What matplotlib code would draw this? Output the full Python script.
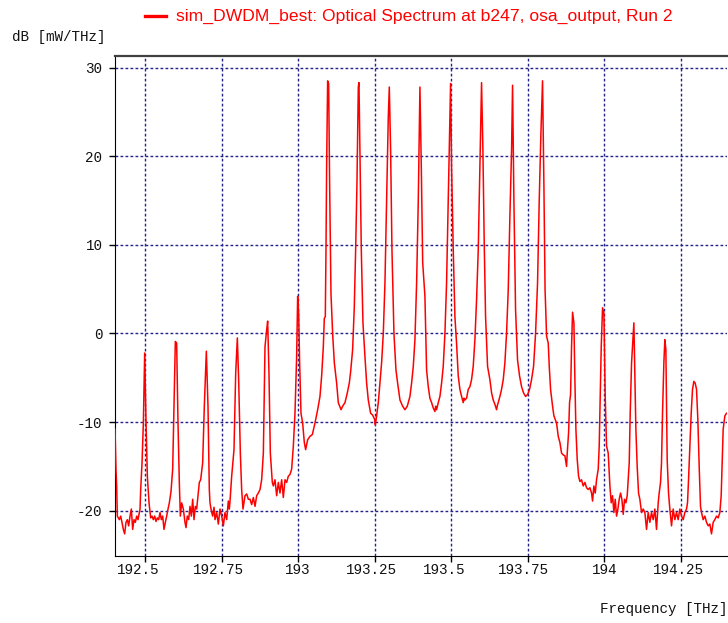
import matplotlib
matplotlib.use("Agg")
import matplotlib.pyplot as plt
from matplotlib.lines import Line2D
from matplotlib.transforms import ScaledTranslation

# optical spectrum (THz, dB[mW/THz])
freq_thz = [
    192.4021, 192.4052, 192.4074, 192.4096, 192.4161, 192.4205, 192.4248, 192.4292,
    192.4335, 192.4379, 192.4423, 192.4466, 192.4510, 192.4553, 192.4597, 192.4641,
    192.4684, 192.4728, 192.4771, 192.4815, 192.4837, 192.4859, 192.4902, 192.4946,
    192.4989, 192.5033, 192.5076, 192.5131, 192.5185,
    192.5229, 192.5272, 192.5316, 192.5359, 192.5403, 192.5446, 192.5490, 192.5533,
    192.5577, 192.5620, 192.5664, 192.5707, 192.5751, 192.5794, 192.5849, 192.5903,
    192.5947, 192.5990, 192.6033, 192.6077, 192.6120, 192.6153,
    192.6197, 192.6251, 192.6305, 192.6338, 192.6381, 192.6425, 192.6469, 192.6512,
    192.6556, 192.6599, 192.6643, 192.6686, 192.6730, 192.6773, 192.6817, 192.6882,
    192.6936, 192.7002, 192.7056, 192.7099, 192.7121, 192.7165, 192.7208, 192.7252,
    192.7285, 192.7339, 192.7394, 192.7448, 192.7503, 192.7557, 192.7611, 192.7666,
    192.7720, 192.7753, 192.7775, 192.7829, 192.7905, 192.7960, 192.8014, 192.8057,
    192.8112, 192.8155, 192.8199, 192.8264, 192.8319, 192.8373, 192.8427, 192.8482,
    192.8536, 192.8591, 192.8645, 192.8699, 192.8754, 192.8808, 192.8863, 192.8917,
    192.8971, 192.9004, 192.9047, 192.9091, 192.9156, 192.9189, 192.9243, 192.9298,
    192.9352, 192.9406, 192.9461, 192.9515, 192.9570, 192.9624, 192.9678, 192.9733,
    192.9787, 192.9842, 192.9896, 192.9950, 192.9983, 193.0016, 193.0048, 193.0092,
    193.0146, 193.0201, 193.0244, 193.0309, 193.0385, 193.0462, 193.0549, 193.0636,
    193.0712, 193.0766, 193.0821, 193.0853, 193.0886, 193.0908, 193.0929, 193.0962,
    193.0995, 193.1027, 193.1071, 193.1125, 193.1180, 193.1256, 193.1310, 193.1364,
    193.1400, 193.1452, 193.1528, 193.1604, 193.1669, 193.1713, 193.1778, 193.1832,
    193.1876, 193.1919, 193.1963, 193.1985, 193.2017, 193.2061, 193.2115, 193.2180,
    193.2235, 193.2289, 193.2365, 193.2431, 193.2496, 193.2518, 193.2561, 193.2616,
    193.2670, 193.2724, 193.2779, 193.2833, 193.2888, 193.2942, 193.2975, 193.3018,
    193.3062, 193.3127, 193.3192, 193.3247, 193.3323, 193.3410, 193.3486, 193.3562,
    193.3649, 193.3703, 193.3758, 193.3812, 193.3867, 193.3921, 193.3975, 193.4020,
    193.4065, 193.4138, 193.4192, 193.4247, 193.4301, 193.4356, 193.4410, 193.4464,
    193.4490, 193.4519, 193.4573, 193.4628, 193.4682, 193.4736, 193.4791, 193.4845,
    193.4900, 193.4943, 193.4976, 193.5008, 193.5063, 193.5117, 193.5171, 193.5226,
    193.5280, 193.5335, 193.5389, 193.5415, 193.5443, 193.5498, 193.5552, 193.5607,
    193.5661, 193.5715, 193.5770, 193.5824, 193.5879, 193.5933, 193.5987, 193.6031,
    193.6074, 193.6118, 193.6183, 193.6259, 193.6314, 193.6368, 193.6423, 193.6477,
    193.6505, 193.6531, 193.6586, 193.6640, 193.6695, 193.6749, 193.6803, 193.6858,
    193.6912, 193.6967, 193.6999, 193.7043, 193.7097, 193.7162, 193.7228, 193.7293,
    193.7358, 193.7424, 193.7489, 193.7554, 193.7619, 193.7685, 193.7750, 193.7815,
    193.7870, 193.7924, 193.7978, 193.8022, 193.8060, 193.8110, 193.8164, 193.8197,
    193.8240, 193.8305, 193.8349, 193.8436, 193.8490, 193.8545, 193.8599, 193.8654,
    193.8708, 193.8762, 193.8784, 193.8828, 193.8860, 193.8893, 193.8925, 193.8958,
    193.9002, 193.9034, 193.9067, 193.9110, 193.9154, 193.9197, 193.9252, 193.9306,
    193.9361, 193.9415, 193.9469, 193.9524, 193.9578, 193.9611, 193.9654, 193.9698,
    193.9741, 193.9796, 193.9828, 193.9861, 193.9894, 193.9937, 193.9981, 194.0024,
    194.0068, 194.0122, 194.0177, 194.0220, 194.0264, 194.0307, 194.0351, 194.0394,
    194.0438, 194.0481, 194.0525, 194.0568, 194.0612, 194.0655, 194.0699, 194.0742,
    194.0775, 194.0808, 194.0840, 194.0884, 194.0960, 194.0992, 194.1025, 194.1068,
    194.1112, 194.1155, 194.1210, 194.1264, 194.1319, 194.1373, 194.1427, 194.1482,
    194.1536, 194.1591, 194.1645, 194.1699, 194.1754, 194.1786, 194.1830, 194.1862,
    194.1895, 194.1939, 194.1971, 194.2004, 194.2047, 194.2091, 194.2134, 194.2189,
    194.2243, 194.2298, 194.2352, 194.2406, 194.2461, 194.2515, 194.2570, 194.2624,
    194.2678, 194.2711, 194.2744, 194.2787, 194.2831, 194.2874, 194.2918, 194.2961,
    194.3005, 194.3048, 194.3092, 194.3135, 194.3168, 194.3222, 194.3277, 194.3331,
    194.3386, 194.3440, 194.3494, 194.3549, 194.3603, 194.3658, 194.3712, 194.3766,
    194.3810, 194.3843, 194.3875, 194.3930, 194.3984,
]
power_db = [
    -10.8, -15.3, -17.2, -20.6, -21.0, -20.6, -21.3, -22.1,
    -22.6, -21.3, -21.0, -21.7, -20.6, -19.8, -22.1, -21.0,
    -21.3, -20.6, -21.0, -20.2, -19.8, -17.6, -14.6, -10.1,
    -2.2, -10.1, -16.1, -19.1, -20.8,
    -20.6, -21.0, -20.6, -21.2, -20.8, -21.0, -20.2, -21.0,
    -20.6, -22.1, -21.3, -20.6, -19.8, -19.1, -17.8, -15.3,
    -8.2, -0.9, -1.1, -10.1, -16.8, -20.6,
    -19.1, -19.8, -21.3, -21.9, -20.6, -21.0, -19.5, -20.6,
    -18.7, -21.0, -19.5, -19.8, -18.3, -16.8, -16.5, -14.6,
    -8.2, -2.0, -8.2, -17.6, -19.1, -20.0, -20.6, -19.6,
    -21.0, -20.2, -21.5, -19.8, -20.6, -21.7, -20.2, -21.0,
    -18.9, -19.8, -18.9, -16.1, -13.1, -4.5, -0.5, -5.2,
    -13.5, -17.6, -19.8, -18.3, -18.1, -18.7, -18.7, -19.3,
    -18.5, -19.5, -18.3, -18.0, -17.6, -16.5, -13.5, -1.5,
    0.4, 1.4, -4.5, -13.5, -16.8, -17.2, -16.5, -18.3,
    -16.8, -18.0, -16.5, -18.5, -16.5, -16.8, -16.1, -15.9,
    -15.3, -12.7, -9.0, -2.6, 4.2, 2.3, -3.3, -9.0,
    -10.1, -12.3, -13.1, -12.0, -11.6, -11.4, -10.1, -8.6,
    -7.1, -4.8, -1.5, 1.7, 1.9, 9.4, 18.8, 28.5,
    28.2, 16.9, 4.5, 0.0, -3.3, -5.6, -7.8, -8.3,
    -8.6, -8.2, -7.8, -6.7, -5.6, -4.3, -1.8, 3.0,
    9.4, 16.9, 27.8, 28.3, 20.7, 9.4, 1.2, -2.6,
    -5.6, -7.5, -9.0, -9.2, -9.7, -10.3, -9.3, -7.8,
    -5.6, -3.3, 0.0, 5.7, 15.0, 24.4, 27.8, 20.7,
    9.4, 0.0, -4.1, -5.6, -7.5, -8.2, -8.6, -8.2,
    -7.1, -5.6, -3.7, -0.7, 5.7, 15.0, 27.8, 18.8,
    8.0, 4.2, -4.1, -6.0, -7.3, -7.8, -8.4, -8.8,
    -8.2, -8.6, -7.8, -7.1, -5.6, -3.7, 0.0, 5.7,
    15.0, 22.5, 28.2, 18.8, 9.4, 1.9, -1.1, -4.8,
    -6.3, -7.1, -7.8, -7.3, -7.5, -7.3, -6.3, -6.0,
    -5.2, -3.7, -0.7, 3.8, 9.4, 18.8, 28.3, 20.7,
    10.2, 1.9, -3.7, -5.2, -6.7, -7.5, -8.0, -8.6,
    -8.1, -7.8, -7.1, -6.3, -5.2, -3.3, 0.0, 4.9,
    13.2, 20.7, 28.0, 15.0, 2.7, -3.0, -4.8, -6.0,
    -6.7, -7.1, -6.9, -6.3, -5.2, -3.7, 0.0, 5.7,
    15.0, 22.5, 28.5, 16.9, 5.0, -0.3, -1.1, -3.7,
    -6.3, -8.2, -9.3, -10.1, -11.6, -12.3, -13.5, -13.7,
    -13.8, -15.0, -13.5, -11.2, -7.8, -6.9, -1.5, 2.4,
    1.2, -5.2, -10.8, -14.2, -16.1, -16.7, -16.5, -17.2,
    -16.8, -17.4, -17.6, -17.4, -18.0, -18.9, -17.2, -18.0,
    -16.5, -15.3, -12.7, -7.1, -1.5, 2.9, 2.3, -7.1,
    -12.7, -13.5, -17.2, -19.1, -18.3, -20.2, -18.7, -20.6,
    -19.8, -18.7, -18.0, -18.7, -20.4, -18.7, -19.1, -18.3,
    -16.5, -14.6, -9.0, -3.3, 1.2, -4.5, -10.8, -15.0,
    -18.0, -18.7, -20.2, -19.8, -20.2, -22.1, -20.2, -21.3,
    -20.2, -21.0, -19.8, -22.1, -19.1, -18.0, -16.8, -14.6,
    -9.0, -3.3, -0.7, -1.8, -14.2, -18.0, -19.8, -21.7,
    -19.8, -21.0, -20.2, -21.0, -19.8, -20.6, -21.0, -20.2,
    -19.8, -19.1, -16.5, -12.7, -9.0, -6.3, -5.4, -5.6,
    -6.3, -9.7, -15.0, -19.5, -20.2, -21.0, -20.6, -21.3,
    -21.7, -21.5, -22.6, -21.3, -21.0, -20.6, -20.8, -20.2,
    -18.3, -14.6, -10.8, -9.3, -9.0,
]

x_ticks = [192.5, 192.75, 193.0, 193.25, 193.5, 193.75, 194.0, 194.25]
x_tick_labels = ["192.5", "192.75", "193", "193.25", "193.5", "193.75", "194", "194.25"]
y_ticks = [-20, -10, 0, 10, 20, 30]
y_tick_labels = ["-20", "-10", "0", "10", "20", "30"]

title = "sim_DWDM_best: Optical Spectrum at b247, osa_output, Run 2"
mono = "Liberation Mono"
grid_col = "#23238a"

fig = plt.figure(figsize=(7.28, 6.23), dpi=100)
ax = fig.add_axes([115 / 728, 67 / 623, 612 / 728, 500 / 623])

ax.plot(freq_thz, power_db, color="#ff0000", lw=1.1, zorder=3)

ax.set_xlim(192.402, 194.400)
ax.set_ylim(-25.1, 31.3)
ax.set_xticks(x_ticks)
ax.set_xticklabels(x_tick_labels, fontfamily=mono, fontsize=10.3, color="#111111")
ax.set_yticks(y_ticks)
ax.set_yticklabels(y_tick_labels, fontfamily=mono, fontsize=10.3, color="#111111")
ax.tick_params(axis="both", direction="out", length=4, width=1, color="black")
ax.tick_params(axis="x", pad=1)
ax.tick_params(axis="y", pad=5)

# the x labels in the original sit a little left of their ticks
shift_px = [-7, -3, 0, -3, -7, -4, 0, -3]
for lbl, dx in zip(ax.get_xticklabels(), shift_px):
    lbl.set_transform(lbl.get_transform() + ScaledTranslation(dx / 100, 0, fig.dpi_scale_trans))

ax.grid(True, color=grid_col, lw=1.0, linestyle=(0, (2.0, 1.6)))
ax.set_axisbelow(True)

ax.spines["right"].set_visible(False)
ax.spines["top"].set_color("#404040")
ax.spines["top"].set_linewidth(1.6)
ax.spines["left"].set_color("black")
ax.spines["bottom"].set_color("black")

# legend-style title
fig.add_artist(Line2D([145 / 728, 166 / 728], [1 - 16 / 623, 1 - 16 / 623],
                      color="#ff0000", lw=2.4))
fig.text(176 / 728, 1 - 16 / 623, title, color="#ff0000", fontsize=12.6,
         fontfamily="Liberation Sans", ha="left", va="center")

fig.text(12 / 728, 1 - 37 / 623, "dB [mW/THz]", fontfamily=mono, fontsize=10.3,
         ha="left", va="center", color="#111111")
fig.text(727 / 728, 1 - 609 / 623, "Frequency [THz]", fontfamily=mono, fontsize=10.3,
         ha="right", va="center", color="#111111")

fig.savefig("out.png", dpi=100)
